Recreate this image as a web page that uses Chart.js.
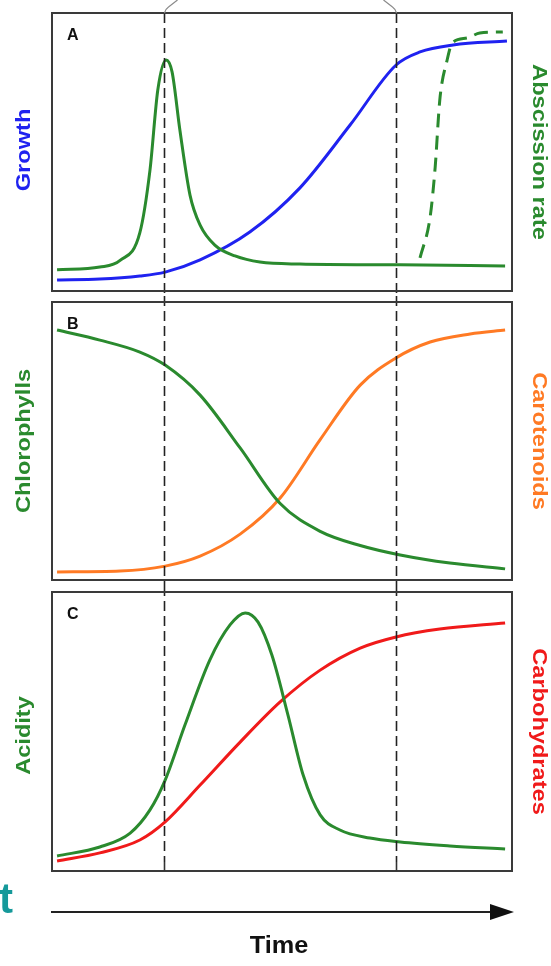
<!DOCTYPE html>
<html>
<head>
<meta charset="utf-8">
<script src="https://cdn.jsdelivr.net/npm/chart.js@4.4.1/dist/chart.umd.min.js"></script>
<style>
  html, body { margin: 0; padding: 0; background: #fff; }
  body { width: 551px; height: 966px; position: relative; overflow: hidden; }
  canvas { position: absolute; left: 0; }
</style>
</head>
<body>
<canvas id="panelA" width="551" height="296" style="top:0px"></canvas>
<canvas id="panelB" width="551" height="290" style="top:296px"></canvas>
<canvas id="panelC" width="551" height="380" style="top:586px"></canvas>
<script>
// Time runs 0..100 across every panel; each curve is a relative level 0..100.
const phaseMarks = [24.3, 74.8];

// Panel A
const peakTime   = [1.1, 10.4, 14.8, 19.1, 21.3, 23.0, 24.8, 26.1, 27.8, 30.0, 32.2, 35.4, 39.8, 45.2, 53.9, 75.7, 98.5];
const peakLevel  = [7.6, 8.6, 11.0, 21.0, 43.5, 72.3, 83.1, 78.8, 57.9, 34.5, 23.7, 16.5, 12.6, 10.4, 9.7, 9.4, 9.0];
const growthTime = [1.1, 10.4, 19.1, 24.6, 32.2, 43.0, 53.9, 64.8, 74.8, 80.0, 87.2, 98.9];
const growth     = [4.0, 4.3, 5.4, 6.8, 11.2, 21.2, 37.1, 59.7, 81.3, 86.0, 88.5, 89.9];
const abscTime   = [80.0, 82.2, 83.3, 84.3, 85.9, 87.0, 90.2, 93.0, 98.0];
const abscission = [11.9, 26.6, 44.6, 68.7, 83.1, 89.2, 91.0, 92.8, 93.2];

// Panel B
const chloroTime   = [1.1, 10.4, 19.1, 24.6, 32.2, 40.9, 49.6, 58.3, 67.0, 75.7, 86.5, 98.5];
const chlorophylls = [89.9, 86.3, 82.0, 77.3, 66.5, 47.5, 27.5, 17.5, 12.4, 9.0, 6.1, 4.0];
const caroTime     = [1.1, 14.8, 24.6, 32.2, 40.9, 49.6, 58.3, 67.0, 74.8, 82.2, 90.9, 98.5];
const carotenoids  = [2.9, 3.2, 5.0, 8.6, 16.5, 29.5, 50.5, 70.1, 79.9, 85.6, 88.5, 89.9];

// Panel C
const acidTime = [1.1, 10.4, 17.0, 21.3, 24.6, 28.9, 34.3, 38.7, 42.0, 44.8, 47.8, 51.3, 54.6, 58.3, 62.6, 69.1, 75.7, 86.5, 98.5];
const acidity  = [5.4, 8.6, 13.6, 21.9, 32.6, 52.3, 75.6, 88.2, 92.5, 89.2, 77.4, 55.9, 34.4, 20.1, 14.7, 11.8, 10.4, 9.0, 7.9];
const carbTime = [1.1, 10.4, 19.1, 24.6, 32.2, 40.9, 49.6, 58.3, 67.0, 74.8, 84.3, 98.5];
const carbohydrates = [3.6, 6.5, 11.1, 17.6, 30.8, 46.2, 60.6, 72.0, 79.9, 83.9, 86.7, 88.9];

const BLUE = '#1f22f0', GREEN = '#2a8a2e', ORANGE = '#ff7a24', RED = '#f01a1a';
const FONT = '"Liberation Sans", Arial, sans-serif';

function pts(xs, ys) { return xs.map((x, i) => ({ x, y: ys[i] })); }

function series(xs, ys, color, dash) {
  return {
    data: pts(xs, ys),
    borderColor: color,
    borderWidth: 3,
    borderDash: dash || [],
    pointRadius: 0,
    fill: false,
    cubicInterpolationMode: 'monotone'
  };
}

function label(ctx, text, x, y, rot, color, size, stretch) {
  ctx.save();
  ctx.translate(x, y);
  ctx.rotate(rot);
  ctx.scale(stretch, 1);
  ctx.fillStyle = color;
  ctx.font = 'bold ' + size + 'px ' + FONT;
  ctx.textAlign = 'center';
  ctx.textBaseline = 'middle';
  ctx.fillText(text, 0, 0);
  ctx.restore();
}

// Panel frame, phase markers, panel letter and side titles.
function panelPlugin(cfg) {
  return {
    id: 'panel' + cfg.letter,
    afterDatasetsDraw(chart) {
      const { ctx, chartArea: a, scales } = chart;
      const H = chart.height;
      ctx.save();
      // phase markers
      ctx.strokeStyle = '#222';
      ctx.lineWidth = 1.6;
      ctx.setLineDash([10, 5]);
      phaseMarks.forEach(v => {
        const px = Math.round(scales.x.getPixelForValue(v)) + 0.5;
        ctx.beginPath();
        ctx.moveTo(px, cfg.markTop(a));
        ctx.lineTo(px, cfg.markBottom(a, H));
        ctx.stroke();
      });
      ctx.setLineDash([]);
      // frame
      ctx.strokeStyle = '#3a3a3a';
      ctx.lineWidth = 2;
      ctx.strokeRect(a.left, a.top, a.right - a.left, a.bottom - a.top);
      // letter
      ctx.fillStyle = '#111';
      ctx.font = 'bold 16px ' + FONT;
      ctx.textAlign = 'left';
      ctx.textBaseline = 'alphabetic';
      ctx.fillText(cfg.letter, a.left + 15, a.top + 27);
      // side titles
      const mid = (a.top + a.bottom) / 2;
      label(ctx, cfg.left[0], 24, mid + cfg.left[2], -Math.PI / 2, cfg.left[1], 20, 1.18);
      label(ctx, cfg.right[0], 539, mid + cfg.right[2], Math.PI / 2, cfg.right[1], 20, 1.18);
      if (cfg.extra) cfg.extra(ctx, a, scales, H);
      ctx.restore();
    }
  };
}

function makeChart(id, datasets, padding, cfg) {
  return new Chart(document.getElementById(id), {
    type: 'line',
    data: { datasets },
    options: {
      responsive: false,
      animation: false,
      devicePixelRatio: 1,
      layout: { padding },
      plugins: { legend: { display: false }, tooltip: { enabled: false } },
      scales: {
        x: { type: 'linear', min: 0, max: 100, display: false },
        y: { min: 0, max: 100, display: false }
      }
    },
    plugins: [panelPlugin(cfg)]
  });
}

makeChart('panelA', [
  series(peakTime, peakLevel, GREEN),
  series(growthTime, growth, BLUE),
  series(abscTime, abscission, GREEN, [14, 8])
], { left: 52, right: 39, top: 13, bottom: 5 }, {
  letter: 'A',
  left: ['Growth', BLUE, -2],
  right: ['Abscission rate', GREEN, 0],
  markTop: a => a.top,
  markBottom: (a, H) => H,
  extra(ctx, a, scales) {
    // short leader lines rising from the top of the markers
    ctx.strokeStyle = '#8a8a8a';
    ctx.lineWidth = 1.2;
    const x1 = Math.round(scales.x.getPixelForValue(phaseMarks[0])) + 0.5;
    const x2 = Math.round(scales.x.getPixelForValue(phaseMarks[1])) + 0.5;
    ctx.beginPath();
    ctx.moveTo(x1, a.top);
    ctx.quadraticCurveTo(x1 + 1, a.top - 4, x1 + 4, a.top - 6);
    ctx.lineTo(x1 + 13, 0);
    ctx.moveTo(x2, a.top);
    ctx.quadraticCurveTo(x2 - 1, a.top - 4, x2 - 4, a.top - 6);
    ctx.lineTo(x2 - 13, 0);
    ctx.stroke();
  }
});

makeChart('panelB', [
  series(chloroTime, chlorophylls, GREEN),
  series(caroTime, carotenoids, ORANGE)
], { left: 52, right: 39, top: 6, bottom: 6 }, {
  letter: 'B',
  left: ['Chlorophylls', GREEN, 0],
  right: ['Carotenoids', ORANGE, 0],
  markTop: () => 0,
  markBottom: (a, H) => H
});

makeChart('panelC', [
  series(acidTime, acidity, GREEN),
  series(carbTime, carbohydrates, RED)
], { left: 52, right: 39, top: 6, bottom: 95 }, {
  letter: 'C',
  left: ['Acidity', GREEN, 4],
  right: ['Carbohydrates', RED, 0],
  markTop: () => 0,
  markBottom: a => a.bottom - 9,
  extra(ctx, a, scales, H) {
    // solid ticks where the markers meet the time axis
    ctx.strokeStyle = '#333';
    ctx.lineWidth = 1.6;
    phaseMarks.forEach(v => {
      const px = Math.round(scales.x.getPixelForValue(v)) + 0.5;
      ctx.beginPath();
      ctx.moveTo(px, a.bottom - 9);
      ctx.lineTo(px, a.bottom);
      ctx.stroke();
    });
    // time arrow
    const ay = a.bottom + 41;
    ctx.strokeStyle = '#222';
    ctx.lineWidth = 2;
    ctx.beginPath();
    ctx.moveTo(51, ay);
    ctx.lineTo(494, ay);
    ctx.stroke();
    ctx.fillStyle = '#111';
    ctx.beginPath();
    ctx.moveTo(514, ay);
    ctx.lineTo(490, ay - 8);
    ctx.lineTo(490, ay + 8);
    ctx.closePath();
    ctx.fill();
    label(ctx, 'Time', 279, a.bottom + 76, 0, '#111', 23, 1.1);
    // fragment of a caption at the left edge
    ctx.fillStyle = '#15999a';
    ctx.font = 'bold 42px ' + FONT;
    ctx.textAlign = 'left';
    ctx.textBaseline = 'alphabetic';
    ctx.fillText('t', -1, a.bottom + 42);
  }
});
</script>
</body>
</html>
